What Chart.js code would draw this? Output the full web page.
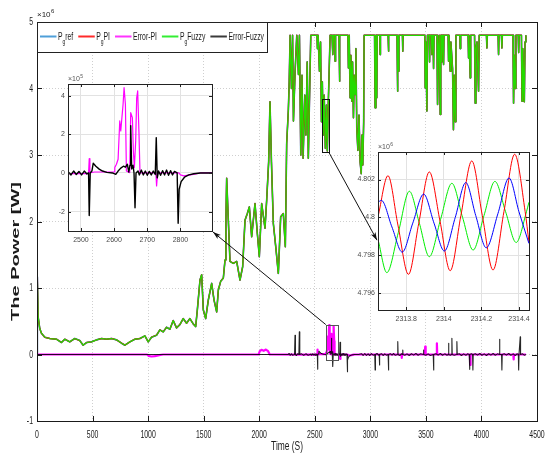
<!DOCTYPE html>
<html>
<head>
<meta charset="utf-8">
<script src="https://cdn.jsdelivr.net/npm/chart.js@4.4.1/dist/chart.umd.min.js"></script>
<style>
body { margin: 0; background: #fff; }
#wrap { position: relative; width: 548px; height: 459px; }
canvas { position: absolute; }
</style>
</head>
<body>
<div id="wrap">
  <canvas id="main" width="548" height="459" style="left:0;top:0"></canvas>
  <canvas id="zoomA" width="180" height="190" style="left:40px;top:66px"></canvas>
  <canvas id="zoomB" width="185" height="195" style="left:350px;top:138px"></canvas>
</div>
<script>
// ---- data (power in 10^6 W, errors in 10^5 W, time in s) ----
const seriesNames = ['P_g ref', 'P_g PI', 'Error-PI', 'P_g Fuzzy', 'Error-Fuzzy'];
const xTicks = [0, 500, 1000, 1500, 2000, 2500, 3000, 3500, 4000, 4500];
const yTicks = [-1, 0, 1, 2, 3, 4, 5];

const pgT = [0, 3, 10, 25, 40, 70, 115, 175, 220, 250, 295, 340, 385, 415, 446, 491, 536, 581, 626, 671, 716, 761, 791, 836, 881, 926, 971, 1001, 1031, 1076, 1106, 1136, 1166, 1196, 1226, 1256, 1286, 1316, 1346, 1376, 1406, 1428, 1443, 1467, 1482, 1497, 1518, 1542, 1572, 1593, 1617, 1632, 1653, 1677, 1692, 1700, 1707, 1722, 1737, 1767, 1797, 1827, 1851, 1872, 1893, 1911, 1932, 1962, 1983, 2001, 2022, 2052, 2067, 2085, 2097, 2110, 2127, 2150, 2172, 2193, 2217, 2235, 2247, 2262, 2270, 2278, 2290, 2300, 2308, 2323, 2338, 2353, 2362, 2374, 2385, 2395, 2410, 2420, 2432, 2442, 2452, 2464, 2520, 2524, 2530, 2542, 2552, 2560, 2568, 2576, 2585, 2595, 2605, 2613, 2622, 2630, 2638, 2655, 2662, 2668, 2680, 2683, 2687, 2718, 2722, 2726, 2798, 2803, 2810, 2818, 2825, 2833, 2840, 2848, 2855, 2863, 2870, 2878, 2888, 2898, 2908, 2918, 2925, 2932, 2940, 2944, 3038, 3043, 3050, 3055, 3058, 3062, 3085, 3088, 3091, 3160, 3163, 3166, 3240, 3244, 3248, 3253, 3257, 3289, 3292, 3295, 3490, 3494, 3500, 3509, 3514, 3529, 3533, 3537, 3550, 3554, 3558, 3565, 3569, 3573, 3600, 3605, 3612, 3620, 3625, 3629, 3634, 3640, 3644, 3648, 3655, 3659, 3663, 3700, 3704, 3708, 3715, 3719, 3725, 3740, 3748, 3755, 3764, 3770, 3805, 3809, 3813, 3880, 3884, 3888, 3895, 3899, 3903, 3938, 3944, 3950, 3960, 3974, 3980, 4045, 4049, 4053, 4150, 4154, 4158, 4180, 4184, 4188, 4284, 4289, 4296, 4304, 4310, 4331, 4335, 4339, 4360, 4365, 4372, 4386, 4392, 4400];
const pgFuzzy = [0, 1.17, 0.57, 0.39, 0.32, 0.26, 0.24, 0.23, 0.18, 0.23, 0.19, 0.24, 0.21, 0.14, 0.18, 0.19, 0.22, 0.24, 0.23, 0.24, 0.22, 0.17, 0.14, 0.19, 0.23, 0.24, 0.28, 0.19, 0.26, 0.29, 0.37, 0.34, 0.41, 0.38, 0.51, 0.40, 0.45, 0.54, 0.47, 0.54, 0.46, 0.42, 0.67, 1.12, 1.20, 0.67, 0.54, 0.82, 1.07, 0.82, 0.64, 0.97, 1.10, 1.15, 1.42, 2.0, 2.65, 2.02, 1.40, 1.37, 1.40, 1.12, 1.32, 2.02, 2.12, 2.22, 1.77, 2.27, 1.82, 1.47, 2.27, 1.90, 2.32, 2.9, 3.8, 2.9, 1.97, 1.6, 1.22, 2.07, 2.12, 1.62, 3.17, 3.67, 4.1, 4.8, 4.0, 4.8, 3.51, 4.26, 4.8, 4.21, 4.8, 3.0, 4.2, 2.95, 3.9, 3.3, 4.4, 2.95, 3.8, 4.8, 4.8, 4.6, 4.8, 4.26, 4.7, 3.5, 4.1, 3.3, 3.9, 3.1, 3.75, 3.06, 3.8, 4.3, 4.8, 4.8, 4.51, 4.8, 4.8, 4.41, 4.8, 4.8, 4.11, 4.8, 4.8, 4.31, 4.8, 3.86, 4.5, 3.81, 4.4, 3.56, 4.2, 3.91, 4.6, 3.4, 3.07, 3.6, 2.9, 2.72, 3.3, 2.85, 3.5, 4.8, 4.8, 3.71, 4.8, 4.8, 3.86, 4.8, 4.8, 4.51, 4.8, 4.8, 4.56, 4.8, 4.8, 3.96, 4.6, 4.26, 4.8, 4.8, 4.56, 4.8, 4.8, 4.01, 4.7, 3.66, 4.8, 4.8, 4.4, 4.8, 4.8, 4.51, 4.8, 4.8, 4.3, 4.8, 4.8, 3.76, 4.5, 4.8, 4.8, 3.61, 4.8, 4.8, 4.4, 4.8, 4.8, 4.36, 4.8, 4.8, 4.41, 4.8, 4.8, 4.26, 4.7, 4.3, 3.38, 4.2, 3.5, 4.8, 4.8, 4.6, 4.8, 4.8, 4.46, 4.8, 4.8, 4.16, 4.8, 4.8, 3.78, 4.6, 4.7, 3.96, 4.8, 4.8, 4.61, 4.8, 4.8, 4.51, 4.8, 4.8, 4.61, 4.8, 4.8, 3.78, 4.5, 4.0, 4.8, 4.8, 4.54, 4.8, 4.8, 3.81, 4.6, 3.8, 4.7, 4.8];
// at full scale the reference and PI power sit under the fuzzy curve
const pgRef = pgFuzzy;
const pgPI = pgFuzzy;

const errPiT = [0, 990, 1005, 1030, 1060, 1100, 1135, 1995, 2005, 2020, 2040, 2060, 2080, 2095, 2460, 2520, 2523, 2525, 2527, 2540, 2600, 2602, 2607, 2612, 2617, 2620, 2627, 2630, 2634, 2637, 2647, 2650, 2655, 2658, 2661, 2665, 2668, 2671, 2675, 2678, 2726, 2728, 2731, 2795, 2800, 2810, 2830, 2850, 2860, 3280, 3283, 3286, 3490, 3494, 3498, 3596, 3599, 3602, 3896, 3899, 3902, 4287, 4290, 4293, 4400];
const errPiV = [0, 0, -0.2, -0.3, -0.25, -0.1, 0, 0, 0.5, 0.7, 0.55, 0.75, 0.5, 0, -0.03, -0.03, 0, 0.74, 0, 0.05, 0.05, 0.28, 0.45, 0.71, 2.69, 2.17, 3.55, 4.41, 3.55, 0.1, 0.02, 3.12, 2.86, 1.14, 0.28, 1.66, 3.89, 4.24, 2.0, 0, 0, -0.67, 0, 0, -0.1, -0.15, -0.1, -0.03, 0, 0, -0.5, 0, 0, 1.2, 0, 0, 1.68, 0, 0, -1.58, 0, 0, -0.75, 0, 0];

const errFzT = [0, 2200, 2260, 2270, 2278, 2290, 2300, 2318, 2322, 2326, 2335, 2345, 2357, 2361, 2365, 2380, 2400, 2420, 2440, 2462, 2470, 2478, 2486, 2494, 2502, 2510, 2518, 2523, 2525, 2528, 2533, 2537, 2545, 2555, 2565, 2578, 2595, 2605, 2612, 2620, 2628, 2634, 2640, 2644, 2648, 2650, 2653, 2657, 2660, 2663, 2666, 2672, 2676, 2682, 2688, 2694, 2700, 2706, 2712, 2718, 2724, 2727, 2730, 2734, 2740, 2746, 2752, 2758, 2764, 2770, 2776, 2782, 2790, 2793, 2796, 2802, 2812, 2825, 2840, 2860, 2895, 2920, 2935, 2950, 2965, 2980, 2995, 3010, 3025, 3040, 3043, 3046, 3060, 3075, 3080, 3082, 3085, 3100, 3115, 3130, 3145, 3160, 3163, 3166, 3180, 3195, 3210, 3225, 3244, 3247, 3250, 3265, 3280, 3290, 3292, 3294, 3310, 3330, 3350, 3370, 3390, 3410, 3430, 3450, 3477, 3479, 3481, 3500, 3520, 3540, 3566, 3569, 3572, 3590, 3610, 3630, 3650, 3670, 3690, 3701, 3704, 3707, 3720, 3731, 3734, 3737, 3755, 3776, 3779, 3782, 3800, 3820, 3840, 3860, 3875, 3890, 3893, 3896, 3910, 3920, 3923, 3926, 3945, 3965, 3985, 4005, 4025, 4045, 4065, 4085, 4105, 4125, 4145, 4160, 4163, 4166, 4181, 4184, 4187, 4205, 4225, 4245, 4265, 4285, 4305, 4320, 4332, 4335, 4338, 4346, 4349, 4352, 4370, 4385, 4400];
const errFzV = [0, 0, 0, 0.15, -0.12, 0.1, -0.1, 0, 2.9, 0, -0.15, 0.1, 0, 3.4, 0, 0.1, -0.12, 0.1, -0.1, 0.05, -0.1, 0.1, -0.08, 0.08, -0.1, 0.1, -0.05, 0, -2.2, 0, 0.1, 0.5, 0.35, 0.2, 0.1, 0.03, 0, -0.07, 0.1, 0.25, 0.35, 0.3, 0.45, 0.05, 0.4, 2.45, 0.2, 0.4, 0, -1.8, 0, 0.1, -0.1, 0.15, -0.1, 0.1, -0.12, 0.08, -0.1, 0.1, -0.08, 1.83, -0.25, 0.1, -0.12, 0.12, -0.1, 0.15, -0.12, 0.12, -0.1, 0.08, 0, -2.6, -0.84, -0.45, -0.22, -0.1, -0.04, 0, 0, 0.12, -0.15, 0.15, -0.12, 0.1, -0.15, 0.12, -0.1, 0, -2.33, 0, 0.15, -0.1, 0, -1.58, 0, 0.12, -0.15, 0.1, -0.1, 0, -2.33, 0, 0.12, -0.1, 0.15, -0.12, 0, 1.93, 0, -0.15, 0.1, 0, 0.68, 0, -0.12, 0.1, -0.15, 0.12, -0.1, 0.15, -0.12, 0.1, 0, 0.68, 0, -0.12, 0.1, -0.15, 0, -2.33, 0, 0.12, -0.1, 0.15, -0.12, 0.1, -0.1, 0, 1.68, 0, -0.12, 0, 2.43, 0, -0.1, 0, 1.93, 0, 0.12, -0.15, 0.1, -0.12, 0.1, 0, -2.23, 0, 0.1, 0, -2.33, 0, 0.12, -0.1, 0.15, -0.12, 0.1, -0.15, 0.12, -0.1, 0.15, -0.12, 0.1, 0, 2.28, 0, 0, -2.33, 0, 0.12, -0.1, 0.15, -0.12, 0.1, -0.15, 0.1, 0, -2.33, 0, 0, 2.68, 0, 0.1, -0.1, 0];

// zoom A : errors around t = 2460..2895 s (10^5 W)
const zoomATicksX = [2500, 2600, 2700, 2800];
const zoomATicksY = [-2, 0, 2, 4];
const zoomARange = { t: [2461, 2895], v: [-3.0, 4.6] };
const zoomABox = { t: [2599, 2707], v: [-0.07, 0.45] };   // marked region in main plot (10^6 W)

// zoom B : power oscillation near t = 2314 s (10^6 W)
const zoomBTicksX = [2313.8, 2314, 2314.2, 2314.4];
const zoomBTicksY = [4.796, 4.798, 4.8, 4.802];
const zoomBRange = { t: [2313.65, 2314.453], v: [4.79512, 4.80345] };
const zoomBBox = { t: [2568, 2627], v: [3.04, 3.84] };
const zoomBArrowV = 4.7988;

const refZoomT = [2313.650, 2313.668, 2313.724, 2313.779, 2313.835, 2313.893, 2313.948, 2314.003, 2314.061, 2314.117, 2314.170, 2314.226, 2314.288, 2314.347, 2314.400, 2314.453];
const refZoomV = [4.80080, 4.80090, 4.79950, 4.79817, 4.79970, 4.80123, 4.79970, 4.79823, 4.80000, 4.80184, 4.80010, 4.79840, 4.80020, 4.80208, 4.80030, 4.79863];
const piZoomT = [2313.650, 2313.703, 2313.756, 2313.812, 2313.867, 2313.923, 2313.980, 2314.034, 2314.091, 2314.149, 2314.205, 2314.262, 2314.320, 2314.377, 2314.433, 2314.453];
const piZoomV = [4.80003, 4.80220, 4.79960, 4.79700, 4.79970, 4.80240, 4.79980, 4.79719, 4.80010, 4.80298, 4.80010, 4.79723, 4.80030, 4.80333, 4.80030, 4.79870];
const fzZoomT = [2313.650, 2313.697, 2313.758, 2313.817, 2313.870, 2313.923, 2313.983, 2314.043, 2314.100, 2314.156, 2314.214, 2314.272, 2314.329, 2314.385, 2314.440, 2314.453];
const fzZoomV = [4.79884, 4.79709, 4.79920, 4.80138, 4.79970, 4.79793, 4.79990, 4.80180, 4.80000, 4.79828, 4.80010, 4.80190, 4.80030, 4.79868, 4.80030, 4.80080];

// ---- helpers ----
const FONT = "'Liberation Sans', Arial, Helvetica, sans-serif";
const pts = (t, v, k = 1) => t.map((x, i) => ({ x: x, y: v[i] * k }));

function squeezeText(ctx, str, x, y, font, sx, align, base, rotate) {
  ctx.save();
  ctx.translate(x, y);
  if (rotate) ctx.rotate(-Math.PI / 2);
  ctx.scale(sx, 1);
  ctx.font = font;
  ctx.textAlign = align;
  ctx.textBaseline = base;
  ctx.fillText(str, 0, 0);
  ctx.restore();
}

function frameAndTicks(chart, len, color) {
  const { ctx, chartArea: a, scales: { x, y } } = chart;
  ctx.save();
  ctx.strokeStyle = color;
  ctx.lineWidth = 1;
  ctx.beginPath();
  x.ticks.forEach(t => {
    const px = Math.round(x.getPixelForValue(t.value)) + 0.5;
    ctx.moveTo(px, a.bottom); ctx.lineTo(px, a.bottom - len);
    ctx.moveTo(px, a.top); ctx.lineTo(px, a.top + len);
  });
  y.ticks.forEach(t => {
    const py = Math.round(y.getPixelForValue(t.value)) + 0.5;
    ctx.moveTo(a.left, py); ctx.lineTo(a.left + len, py);
    ctx.moveTo(a.right, py); ctx.lineTo(a.right - len, py);
  });
  ctx.stroke();
  ctx.strokeRect(Math.round(a.left) + 0.5, Math.round(a.top) + 0.5, Math.round(a.right - a.left), Math.round(a.bottom - a.top));
  ctx.restore();
}

function expLabel(ctx, x, y, exp, size, color) {
  ctx.save();
  ctx.fillStyle = color;
  ctx.textBaseline = 'alphabetic';
  ctx.textAlign = 'left';
  ctx.font = size + 'px ' + FONT;
  ctx.fillText('\u00d710', x, y);
  const w = ctx.measureText('\u00d710').width;
  ctx.font = (size - 2) + 'px ' + FONT;
  ctx.fillText(exp, x + w + 0.5, y - size * 0.45);
  ctx.restore();
}

function arrow(ctx, x0, y0, x1, y1) {
  const ang = Math.atan2(y1 - y0, x1 - x0), L = 8, W = 2.6;
  ctx.save();
  ctx.strokeStyle = '#111';
  ctx.fillStyle = '#111';
  ctx.lineWidth = 1;
  ctx.beginPath(); ctx.moveTo(x0, y0); ctx.lineTo(x1, y1); ctx.stroke();
  ctx.translate(x1, y1); ctx.rotate(ang);
  ctx.beginPath(); ctx.moveTo(0, 0); ctx.lineTo(-L, -W); ctx.lineTo(-L + 2, 0); ctx.lineTo(-L, W); ctx.closePath(); ctx.fill();
  ctx.restore();
}

const whiteArea = {
  id: 'whiteArea',
  beforeDraw(chart) {
    const { ctx, chartArea: a } = chart;
    ctx.save(); ctx.fillStyle = '#fff';
    ctx.fillRect(a.left, a.top, a.right - a.left, a.bottom - a.top);
    ctx.restore();
  }
};

function insetConfig(datasets, range, tx, ty, pad, yW, xH, exp) {
  return {
    type: 'line',
    data: { datasets: datasets },
    options: {
      responsive: false, animation: false, events: [], devicePixelRatio: 1,
      layout: { padding: pad },
      elements: { point: { radius: 0 }, line: { tension: 0, borderJoinStyle: 'round', fill: false } },
      plugins: { legend: { display: false }, tooltip: { enabled: false } },
      scales: {
        x: {
          type: 'linear', min: range.t[0], max: range.t[1],
          afterBuildTicks: s => { s.ticks = tx.map(v => ({ value: v })); },
          afterFit: s => { s.height = xH; },
          ticks: { color: '#4a4a4a', font: { family: FONT, size: 7 }, padding: 5, maxRotation: 0, autoSkip: false, callback: v => String(v) },
          grid: { color: '#e2e2e2', drawTicks: false },
          border: { display: false }
        },
        y: {
          type: 'linear', min: range.v[0], max: range.v[1],
          afterBuildTicks: s => { s.ticks = ty.map(v => ({ value: v })); },
          afterFit: s => { s.width = yW; },
          ticks: { color: '#4a4a4a', font: { family: FONT, size: 7 }, padding: 3, autoSkip: false, callback: v => String(v) },
          grid: { color: '#e2e2e2', drawTicks: false },
          border: { display: false }
        }
      }
    },
    plugins: [whiteArea, {
      id: 'insetDecor',
      afterDraw(chart) {
        frameAndTicks(chart, 3, '#222');
        expLabel(chart.ctx, chart.chartArea.left, chart.chartArea.top - 3, exp, 7, '#555');
      }
    }]
  };
}

// ---- zoom A : errors ----
const chartA = new Chart(document.getElementById('zoomA'), insetConfig([
  { label: seriesNames[4], data: pts(errFzT, errFzV), borderColor: '#000', borderWidth: 1.4, order: 1 },
  { label: seriesNames[2], data: pts(errPiT, errPiV), borderColor: '#ff00ff', borderWidth: 1.2, order: 2 }
], zoomARange, zoomATicksX, zoomATicksY, { top: 18, right: 8, left: 0, bottom: 0 }, 28, 25, '5'));

// ---- zoom B : oscillation ----
const chartB = new Chart(document.getElementById('zoomB'), insetConfig([
  { label: seriesNames[0], data: pts(refZoomT, refZoomV), borderColor: '#0000ff', borderWidth: 1, cubicInterpolationMode: 'monotone', order: 1 },
  { label: seriesNames[1], data: pts(piZoomT, piZoomV), borderColor: '#ff0000', borderWidth: 1, cubicInterpolationMode: 'monotone', order: 2 },
  { label: seriesNames[3], data: pts(fzZoomT, fzZoomV), borderColor: '#00ee00', borderWidth: 1, cubicInterpolationMode: 'monotone', order: 3 }
], zoomBRange, zoomBTicksX, zoomBTicksY, { top: 14, right: 5, left: 0, bottom: 0 }, 28, 23, '6'));

// ---- main chart ----
const legendColors = ['#4f9fd8', '#ff2a2a', '#ff33ff', '#33ee33', '#3a3a3a'];

function drawLegend(ctx, a) {
  const sx = 0.62, font = '11px ' + FONT, subFont = '8px ' + FONT, gap = 5;
  const items = seriesNames.map(n => {
    const m = n.match(/^(\w)_(\w)\s*(.*)$/);
    return m ? [m[1], m[2], m[3]] : [n, '', ''];
  });
  ctx.save();
  const widths = items.map(p => {
    ctx.font = font; let w = ctx.measureText(p[0] + p[2]).width;
    ctx.font = subFont; w += ctx.measureText(p[1]).width;
    return w * sx;
  });
  const total = 3 + widths.reduce((s, w) => s + 18 + w + gap, 0) - 2;
  const top = a.top, h = 30, cy = top + 14.5;
  ctx.fillStyle = '#fff';
  ctx.fillRect(a.left, top, total, h);
  ctx.strokeStyle = '#222'; ctx.lineWidth = 1;
  ctx.strokeRect(a.left + 0.5, top + 0.5, total, h);
  let x = a.left + 3;
  items.forEach((p, i) => {
    ctx.strokeStyle = legendColors[i]; ctx.lineWidth = 2;
    ctx.beginPath(); ctx.moveTo(x, cy); ctx.lineTo(x + 16.5, cy); ctx.stroke();
    x += 18;
    ctx.fillStyle = '#1a1a1a';
    squeezeText(ctx, p[0], x, cy, font, sx, 'left', 'middle');
    ctx.font = font; let dx = ctx.measureText(p[0]).width * sx;
    if (p[1]) {
      squeezeText(ctx, p[1], x + dx, cy + 5, subFont, sx, 'left', 'middle');
      ctx.font = subFont; dx += ctx.measureText(p[1]).width * sx;
      squeezeText(ctx, p[2], x + dx, cy, font, sx, 'left', 'middle');
    }
    x += widths[i] + gap;
  });
  ctx.restore();
}

const mainDecor = {
  id: 'mainDecor',
  afterDraw(chart) {
    const { ctx, chartArea: a, scales: { x, y } } = chart;
    frameAndTicks(chart, 5, '#1a1a1a');
    ctx.save();
    ctx.fillStyle = '#1a1a1a';
    const tickFont = '11px ' + FONT;
    x.ticks.forEach(t => squeezeText(ctx, String(t.value), x.getPixelForValue(t.value), a.bottom + 14, tickFont, 0.63, 'center', 'middle'));
    y.ticks.forEach(t => squeezeText(ctx, String(t.value), a.left - 4, y.getPixelForValue(t.value), tickFont, 0.63, 'right', 'middle'));
    squeezeText(ctx, 'Time (S)', (a.left + a.right) / 2, a.bottom + 26, '12px ' + FONT, 0.7, 'center', 'middle');
    squeezeText(ctx, 'The Power [W]', 16, (a.top + a.bottom) / 2 + 30, 'bold 10px ' + FONT, 2.0, 'center', 'middle', true);
    ctx.restore();
    expLabel(ctx, a.left, a.top - 5, '6', 8, '#1a1a1a');

    // marked regions
    ctx.save();
    ctx.lineWidth = 1;
    const rect = (b, c) => {
      const x0 = x.getPixelForValue(b.t[0]), x1 = x.getPixelForValue(b.t[1]);
      const y0 = y.getPixelForValue(b.v[1]), y1 = y.getPixelForValue(b.v[0]);
      ctx.strokeStyle = c;
      ctx.strokeRect(Math.round(x0) + 0.5, Math.round(y0) + 0.5, Math.round(x1 - x0), Math.round(y1 - y0));
    };
    rect(zoomABox, '#555');
    rect(zoomBBox, '#111');
    ctx.restore();

    // arrows to the insets
    const ca = chartA.chartArea, oa = chartA.canvas;
    arrow(ctx, x.getPixelForValue(zoomABox.t[0]), y.getPixelForValue(zoomABox.v[1]),
      oa.offsetLeft + ca.right + 1, oa.offsetTop + ca.bottom + 1);
    const cb = chartB.chartArea, ob = chartB.canvas;
    arrow(ctx, x.getPixelForValue(zoomBBox.t[1]), y.getPixelForValue(zoomBBox.v[0]),
      ob.offsetLeft + cb.left - 1, ob.offsetTop + chartB.scales.y.getPixelForValue(zoomBArrowV));

    drawLegend(ctx, a);
  }
};

const mainChart = new Chart(document.getElementById('main'), {
  type: 'line',
  data: {
    datasets: [
      { label: seriesNames[0], data: pts(pgT, pgRef), borderColor: '#0072BD', borderWidth: 1.6, order: 5 },
      { label: seriesNames[1], data: pts(pgT, pgPI), borderColor: '#ff0000', borderWidth: 1.4, order: 4 },
      { label: seriesNames[2], data: pts(errPiT, errPiV, 0.1), borderColor: '#ff00ff', borderWidth: 2.2, order: 3 },
      { label: seriesNames[3], data: pts(pgT, pgFuzzy), borderColor: 'rgba(0,255,0,0.86)', borderWidth: 1.2, order: 2 },
      { label: seriesNames[4], data: pts(errFzT, errFzV, 0.1), borderColor: 'rgba(0,0,0,0.85)', borderWidth: 1.1, order: 1 }
    ]
  },
  options: {
    responsive: false, animation: false, events: [], devicePixelRatio: 1,
    layout: { padding: { top: 22, right: 11, left: 0, bottom: 0 } },
    elements: { point: { radius: 0 }, line: { tension: 0, borderJoinStyle: 'round', fill: false } },
    plugins: { legend: { display: false }, tooltip: { enabled: false } },
    scales: {
      x: {
        type: 'linear', min: 0, max: 4500,
        afterBuildTicks: s => { s.ticks = xTicks.map(v => ({ value: v })); },
        afterFit: s => { s.height = 38; },
        ticks: { display: false },
        grid: { color: '#cfcfcf', drawTicks: false },
        border: { display: false, dash: [1, 2] }
      },
      y: {
        type: 'linear', min: -1, max: 5,
        afterBuildTicks: s => { s.ticks = yTicks.map(v => ({ value: v })); },
        afterFit: s => { s.width = 37; },
        ticks: { display: false },
        grid: { color: '#cfcfcf', drawTicks: false },
        border: { display: false, dash: [1, 2] }
      }
    }
  },
  plugins: [mainDecor]
});
</script>
</body>
</html>
